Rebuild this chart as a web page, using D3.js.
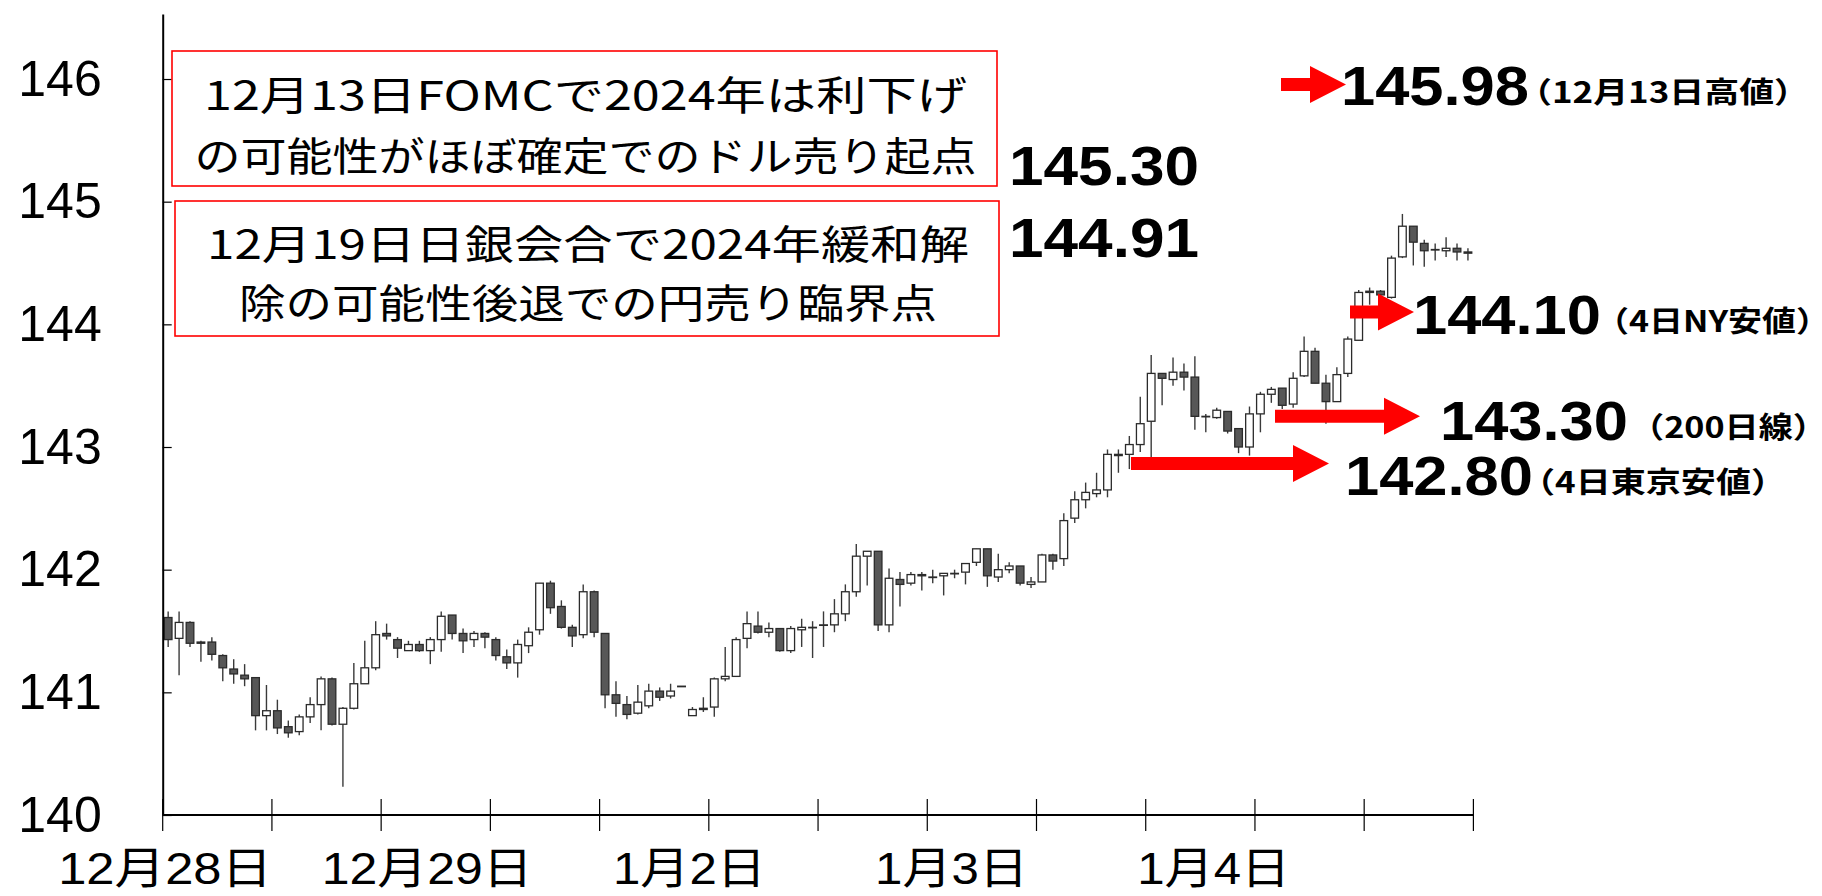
<!DOCTYPE html>
<html>
<head>
<meta charset="utf-8">
<script src="https://cdn.jsdelivr.net/npm/d3@7"></script>
<style>
  body { margin: 0; background: #fff; }
  svg { display: block; }
</style>
</head>
<body>
<svg id="chart"></svg>
<script>
// hourly USD/JPY candles, 12/28 - 1/4
const opens  = [141.61,141.44,141.57,141.41,141.41,141.30,141.19,141.14,141.12,140.81,
               140.85,140.72,140.68,140.80,140.90,141.11,140.74,140.87,141.07,141.20,
               141.48,141.43,141.34,141.39,141.34,141.43,141.63,141.48,141.43,141.48,
               141.43,141.29,141.24,141.38,141.51,141.89,141.70,141.53,141.47,141.82,
               141.48,140.98,140.90,140.83,140.89,141.01,140.97,141.05,140.81,140.87,
               140.88,141.11,141.13,141.44,141.54,141.49,141.52,141.34,141.51,141.53,
               141.55,141.55,141.64,141.82,142.11,142.15,141.55,141.92,141.89,141.96,
               141.94,141.95,141.97,141.98,142.06,142.17,141.94,142.00,142.03,141.88,
               141.90,142.12,142.09,142.42,142.57,142.62,142.65,142.94,142.94,143.02,
               143.21,143.60,143.55,143.61,143.57,143.25,143.24,143.29,143.15,143.00,
               143.27,143.43,143.48,143.35,143.58,143.78,143.52,143.37,143.60,143.87,
               144.27,144.27,144.22,144.55,144.80,144.66,144.61,144.60,144.62,144.58];
const highs  = [141.66,141.66,141.58,141.42,141.45,141.31,141.27,141.23,141.12,141.06,
               140.94,140.77,140.82,140.96,141.13,141.12,140.88,141.24,141.42,141.58,
               141.56,141.45,141.42,141.42,141.45,141.66,141.63,141.52,141.50,141.49,
               141.45,141.35,141.43,141.53,141.89,141.91,141.75,141.55,141.88,141.83,
               141.48,141.09,140.97,141.06,141.07,141.04,141.07,141.05,140.88,140.96,
               141.12,141.37,141.45,141.66,141.66,141.57,141.52,141.54,141.60,141.58,
               141.66,141.76,141.88,142.21,142.15,142.15,142.01,141.98,141.98,141.98,
               142.00,141.97,142.00,142.05,142.17,142.17,142.13,142.06,142.03,141.94,
               142.13,142.13,142.46,142.64,142.71,142.79,142.98,142.98,143.09,143.41,
               143.75,143.60,143.73,143.68,143.74,143.27,143.32,143.29,143.15,143.33,
               143.45,143.49,143.48,143.61,143.90,143.81,143.59,143.65,143.90,144.28,
               144.30,144.28,144.56,144.90,144.80,144.69,144.66,144.71,144.66,144.62];
const lows   = [141.37,141.14,141.37,141.25,141.26,141.09,141.07,141.05,140.69,140.69,
               140.66,140.63,140.65,140.75,140.69,140.73,140.23,140.86,141.07,141.18,
               141.43,141.28,141.34,141.33,141.23,141.33,141.43,141.32,141.37,141.36,
               141.26,141.19,141.12,141.32,141.47,141.64,141.52,141.37,141.44,141.45,
               140.87,140.80,140.78,140.82,140.87,140.93,140.95,141.05,140.81,140.84,
               140.80,141.09,141.13,141.36,141.48,141.45,141.33,141.32,141.37,141.28,
               141.37,141.49,141.58,141.78,141.87,141.50,141.49,141.70,141.87,141.83,
               141.89,141.79,141.93,141.88,142.03,141.86,141.90,141.97,141.87,141.85,
               141.90,142.00,142.03,142.38,142.50,142.59,142.59,142.79,142.82,142.96,
               142.82,143.34,143.50,143.46,143.14,143.12,143.23,143.11,142.95,142.93,
               143.12,143.36,143.31,143.32,143.57,143.52,143.19,143.37,143.57,143.87,
               144.16,144.22,144.21,144.54,144.48,144.47,144.52,144.55,144.52,144.52];
const closes = [141.43,141.57,141.40,141.40,141.31,141.20,141.15,141.11,140.81,140.85,
               140.71,140.67,140.80,140.90,141.11,140.74,140.87,141.07,141.20,141.47,
               141.46,141.36,141.39,141.34,141.43,141.62,141.48,141.42,141.48,141.45,
               141.30,141.24,141.39,141.49,141.89,141.69,141.53,141.46,141.82,141.49,
               140.98,140.91,140.82,140.92,141.01,140.96,141.01,141.05,140.86,140.86,
               141.11,141.13,141.43,141.56,141.49,141.52,141.34,141.52,141.53,141.53,
               141.55,141.64,141.82,142.11,142.15,141.55,141.93,141.88,141.96,141.95,
               141.94,141.97,141.97,142.05,142.17,141.95,142.00,142.03,141.89,141.90,
               142.12,142.07,142.40,142.57,142.63,142.65,142.94,142.93,143.02,143.19,
               143.60,143.56,143.61,143.57,143.25,143.25,143.30,143.13,143.00,143.27,
               143.43,143.47,143.34,143.56,143.78,143.52,143.37,143.59,143.88,144.26,
               144.26,144.24,144.54,144.80,144.67,144.60,144.61,144.62,144.59,144.59];

const dayLabels = ["12月28日", "12月29日", "1月2日", "1月3日", "1月4日"];
const dayStart = [0, 24, 48, 72, 96];
const yTickValues = [140, 141, 142, 143, 144, 145, 146];

const boxNotes = [
  ["12月13日FOMCで2024年は利下げ", "の可能性がほぼ確定でのドル売り起点"],
  ["12月19日日銀会合で2024年緩和解", "除の可能性後退での円売り臨界点"]
];
const plainValues = ["145.30", "144.91"];
const arrowValues = ["145.98", "144.10", "143.30", "142.80"];
const arrowLevels = [145.98, 144.10, 143.30, 142.80];
const arrowNotes = ["（12月13日高値）", "（4日NY安値）", "（200日線）", "（4日東京安値）"];

// ---- layout ----
const W = 1822, H = 896;
const plotLeft = 162.7, plotRight = 1473.4, plotBottom = 815, plotTop = 14;
const red = "#ff0000";

const svg = d3.select("#chart").attr("width", W).attr("height", H);
svg.append("rect").attr("width", W).attr("height", H).attr("fill", "#fff");

const idx = d3.range(opens.length);
const x = d3.scaleBand().domain(idx).range([plotLeft, plotRight]).paddingInner(0.3).paddingOuter(0.15);
const step = x.step();
const y = d3.scaleLinear().domain([140, 146.53]).range([plotBottom, plotTop]);

// candles
const candles = svg.append("g").selectAll("g").data(idx).join("g")
  .attr("transform", i => `translate(${x(i) + x.bandwidth() / 2},0)`);

candles.append("line")
  .attr("y1", i => y(highs[i])).attr("y2", i => y(lows[i]))
  .attr("stroke", "#3a3a3a").attr("stroke-width", 1.4);

candles.append("rect")
  .attr("x", -x.bandwidth() / 2)
  .attr("width", x.bandwidth())
  .attr("y", i => y(Math.max(opens[i], closes[i])))
  .attr("height", i => Math.max(0.5, Math.abs(y(opens[i]) - y(closes[i]))))
  .attr("fill", i => closes[i] < opens[i] ? "#575757" : "#fff")
  .attr("stroke", "#2b2b2b").attr("stroke-width", 1.3);

// y axis
const yAxis = d3.axisLeft(y).tickValues(yTickValues).tickFormat(d3.format("d"))
  .tickSizeInner(-9).tickSizeOuter(0).tickPadding(61);
const gy = svg.append("g").attr("transform", `translate(${plotLeft},0)`).call(yAxis);
gy.select(".domain").attr("stroke", "#000").attr("stroke-width", 2);
gy.selectAll(".tick line").attr("stroke", "#000").attr("stroke-width", 1.2);
gy.selectAll(".tick text")
  .attr("font-family", "'Liberation Sans', Arial, sans-serif")
  .attr("font-size", 50).attr("fill", "#000");

// x axis with crossing ticks every 10 hours
svg.append("line").attr("x1", plotLeft).attr("x2", plotRight).attr("y1", plotBottom).attr("y2", plotBottom)
  .attr("stroke", "#000").attr("stroke-width", 2);
const tickIdx = d3.range(0, opens.length + 1, 10);
svg.append("g").selectAll("line").data(tickIdx).join("line")
  .attr("x1", i => plotLeft + i * step).attr("x2", i => plotLeft + i * step)
  .attr("y1", plotBottom - 16).attr("y2", plotBottom + 16)
  .attr("stroke", "#000").attr("stroke-width", 1.2);

const dayLabelWidth = [214, 211, 153, 153, 153];
svg.append("g").selectAll("text").data(dayLabels).join("text")
  .attr("x", (d, i) => x(dayStart[i]) + x.bandwidth() / 2 - 3)
  .attr("y", 884)
  .attr("text-anchor", "middle")
  .attr("font-family", "'Liberation Sans', 'Noto Sans CJK JP', sans-serif")
  .attr("font-size", 44)
  .attr("textLength", (d, i) => dayLabelWidth[i]).attr("lengthAdjust", "spacingAndGlyphs")
  .attr("fill", "#000")
  .text(d => d);

// note boxes
const boxes = [
  { x: 172, y: 51, w: 825, h: 135, lines: [92.5, 153.5], len: [763, 782] },
  { x: 175, y: 201, w: 824, h: 135, lines: [242, 301], len: [762, 698] }
];
boxes.forEach((b, k) => {
  svg.append("rect").attr("x", b.x).attr("y", b.y).attr("width", b.w).attr("height", b.h)
    .attr("fill", "#fff").attr("stroke", red).attr("stroke-width", 1.6);
  boxNotes[k].forEach((t, j) => {
    svg.append("text")
      .attr("x", b.x + b.w / 2 + 1).attr("y", b.lines[j])
      .attr("text-anchor", "middle").attr("dominant-baseline", "central")
      .attr("font-family", "'Noto Sans CJK JP', sans-serif")
      .attr("font-size", 40).attr("fill", "#000")
      .attr("textLength", b.len[j]).attr("lengthAdjust", "spacingAndGlyphs")
      .text(t);
  });
});

// plain values
const bigFont = "'Liberation Sans', Arial, sans-serif";
[185, 257].forEach((by, k) => {
  svg.append("text").attr("x", 1009).attr("y", by)
    .attr("font-family", bigFont).attr("font-weight", "bold").attr("font-size", 55)
    .attr("textLength", 190).attr("lengthAdjust", "spacingAndGlyphs")
    .attr("fill", "#000").text(plainValues[k]);
});

// arrows + labels
const arrows = [
  { x0: 1281, x1: 1346, dy: 3,  tx: 1341, ty: 105, nx: 1517, nw: 292 },
  { x0: 1350, x1: 1414, dy: 0,  tx: 1413, ty: 334, nx: 1595, nw: 235 },
  { x0: 1275, x1: 1420, dy: 6,  tx: 1440, ty: 440, nx: 1630, nw: 197 },
  { x0: 1131, x1: 1329, dy: -8, tx: 1345, ty: 495, nx: 1520, nw: 266 }
];
const shaftH = 13, headH = 37, headL = 36;
arrows.forEach((a, k) => {
  const ay = y(arrowLevels[k]) + a.dy;
  const p = [
    [a.x0, ay - shaftH / 2], [a.x1 - headL, ay - shaftH / 2], [a.x1 - headL, ay - headH / 2],
    [a.x1, ay], [a.x1 - headL, ay + headH / 2], [a.x1 - headL, ay + shaftH / 2], [a.x0, ay + shaftH / 2]
  ];
  svg.append("path").attr("d", d3.line()(p) + "Z").attr("fill", red);
  svg.append("text").attr("x", a.tx).attr("y", a.ty)
    .attr("font-family", bigFont).attr("font-weight", "bold").attr("font-size", 55)
    .attr("textLength", 188).attr("lengthAdjust", "spacingAndGlyphs")
    .attr("fill", "#000").text(arrowValues[k]);
  svg.append("text").attr("x", a.nx).attr("y", a.ty - 2)
    .attr("font-family", "'Noto Sans CJK JP', sans-serif").attr("font-weight", "bold")
    .attr("font-size", 29)
    .attr("textLength", a.nw).attr("lengthAdjust", "spacingAndGlyphs")
    .attr("fill", "#000").text(arrowNotes[k]);
});
</script>
</body>
</html>
